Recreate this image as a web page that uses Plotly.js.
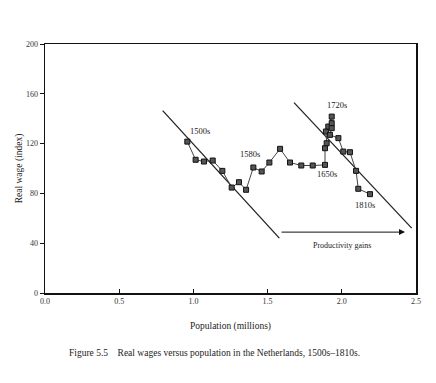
<!DOCTYPE html>
<html>
<head>
<meta charset="utf-8">
<script src="https://cdn.plot.ly/plotly-3.0.1.min.js"></script>
<style>html,body{margin:0;padding:0;background:#fff;}#chart{width:436px;height:383px;}</style>
</head>
<body>
<div id="chart"></div>
<script>
// Observed series: population (millions) vs real wage (index)
var population = [0.959, 1.015, 1.071, 1.130, 1.195, 1.258, 1.307, 1.355, 1.404, 1.460, 1.512, 1.584, 1.651, 1.727, 1.804, 1.887, 1.887, 1.898, 1.893, 1.909, 1.932, 1.932, 1.932, 1.920, 1.977, 2.010, 2.055, 2.096, 2.111, 2.190];
var realWage   = [121.6, 107.0, 105.6, 106.4, 98.1, 84.7, 89.0, 82.9, 100.8, 97.6, 104.8, 115.8, 104.8, 102.4, 102.4, 102.9, 116.3, 120.3, 129.7, 133.7, 141.7, 136.4, 132.4, 127.0, 124.4, 113.6, 113.1, 98.1, 83.7, 79.4];

// Trend lines
var trend1X = [0.793, 1.579];
var trend1Y = [146.5, 44.1];
var trend2X = [1.678, 2.471];
var trend2Y = [152.9, 52.1];

// Period labels
var periodLabels = ["1500s", "1580s", "1720s", "1650s", "1810s"];
var periodX = [1.045, 1.381, 1.965, 1.903, 2.156];
var periodY = [130.5, 111.7, 151.0, 95.5, 70.8];

// Arrow
var arrowX = [1.584, 2.426];
var arrowY = [48.9, 48.9];
var arrowText = "Productivity gains";
var arrowTextPos = [2.0, 38.2];

var xTicks = [0, 0.5, 1, 1.5, 2, 2.5];
var xTickLabels = ["0.0", "0.5", "1.0", "1.5", "2.0", "2.5"];
var yTicks = [0, 40, 80, 120, 160, 200];
var yTickLabels = ["0", "40", "80", "120", "160", "200"];

var serif = "Liberation Serif, Times New Roman, serif";

var traces = [
  {x: trend1X, y: trend1Y, mode: "lines", line: {color: "#222", width: 1.3}, hoverinfo: "skip"},
  {x: trend2X, y: trend2Y, mode: "lines", line: {color: "#222", width: 1.3}, hoverinfo: "skip"},
  {x: population, y: realWage, mode: "lines+markers",
   line: {color: "#444", width: 1},
   marker: {symbol: "square", size: 5, color: "#555", line: {color: "#111", width: 1}}}
];

var annotations = [];
for (var i = 0; i < periodLabels.length; i++) {
  annotations.push({x: periodX[i], y: periodY[i], xref: "x", yref: "y", text: periodLabels[i],
    showarrow: false, font: {family: serif, size: 8.5, color: "#222"}});
}
annotations.push({x: arrowX[1], y: arrowY[1], ax: arrowX[0], ay: arrowY[0], axref: "x", ayref: "y",
  xref: "x", yref: "y", text: "", showarrow: true, arrowhead: 2, arrowsize: 1.2, arrowwidth: 1, arrowcolor: "#111"});
annotations.push({x: arrowTextPos[0], y: arrowTextPos[1], xref: "x", yref: "y", text: arrowText,
  showarrow: false, font: {family: serif, size: 8, color: "#222"}});
annotations.push({x: 0.458, y: -0.24, xref: "paper", yref: "paper", yanchor: "middle",
  text: "Figure 5.5&nbsp;&nbsp;&nbsp; Real wages versus population in the Netherlands, 1500s–1810s.",
  showarrow: false, font: {family: serif, size: 9.5, color: "#222"}});

var layout = {
  width: 436, height: 383,
  margin: {l: 45, r: 19.5, t: 44, b: 89.7},
  paper_bgcolor: "#fff", plot_bgcolor: "#fff",
  showlegend: false,
  font: {family: serif, color: "#222"},
  xaxis: {range: [0, 2.5], tickvals: xTicks, ticktext: xTickLabels,
    showgrid: false, zeroline: false, showline: true, linecolor: "#111", linewidth: 1.5, mirror: true,
    ticks: "inside", ticklen: 4, tickcolor: "#111",
    tickfont: {family: serif, size: 8, color: "#333"},
    title: {text: "Population (millions)", font: {family: serif, size: 9.5, color: "#222"}, standoff: 17}},
  yaxis: {range: [0, 200], tickvals: yTicks, ticktext: yTickLabels,
    showgrid: false, zeroline: false, showline: true, linecolor: "#111", linewidth: 1.5, mirror: true,
    ticks: "outside", ticklen: 4, tickcolor: "#111",
    tickfont: {family: serif, size: 8, color: "#333"},
    title: {text: "Real wage (index)", font: {family: serif, size: 9.5, color: "#222"}, standoff: 1}},
  annotations: annotations
};

Plotly.newPlot("chart", traces, layout, {displayModeBar: false, staticPlot: true});
</script>
</body>
</html>
